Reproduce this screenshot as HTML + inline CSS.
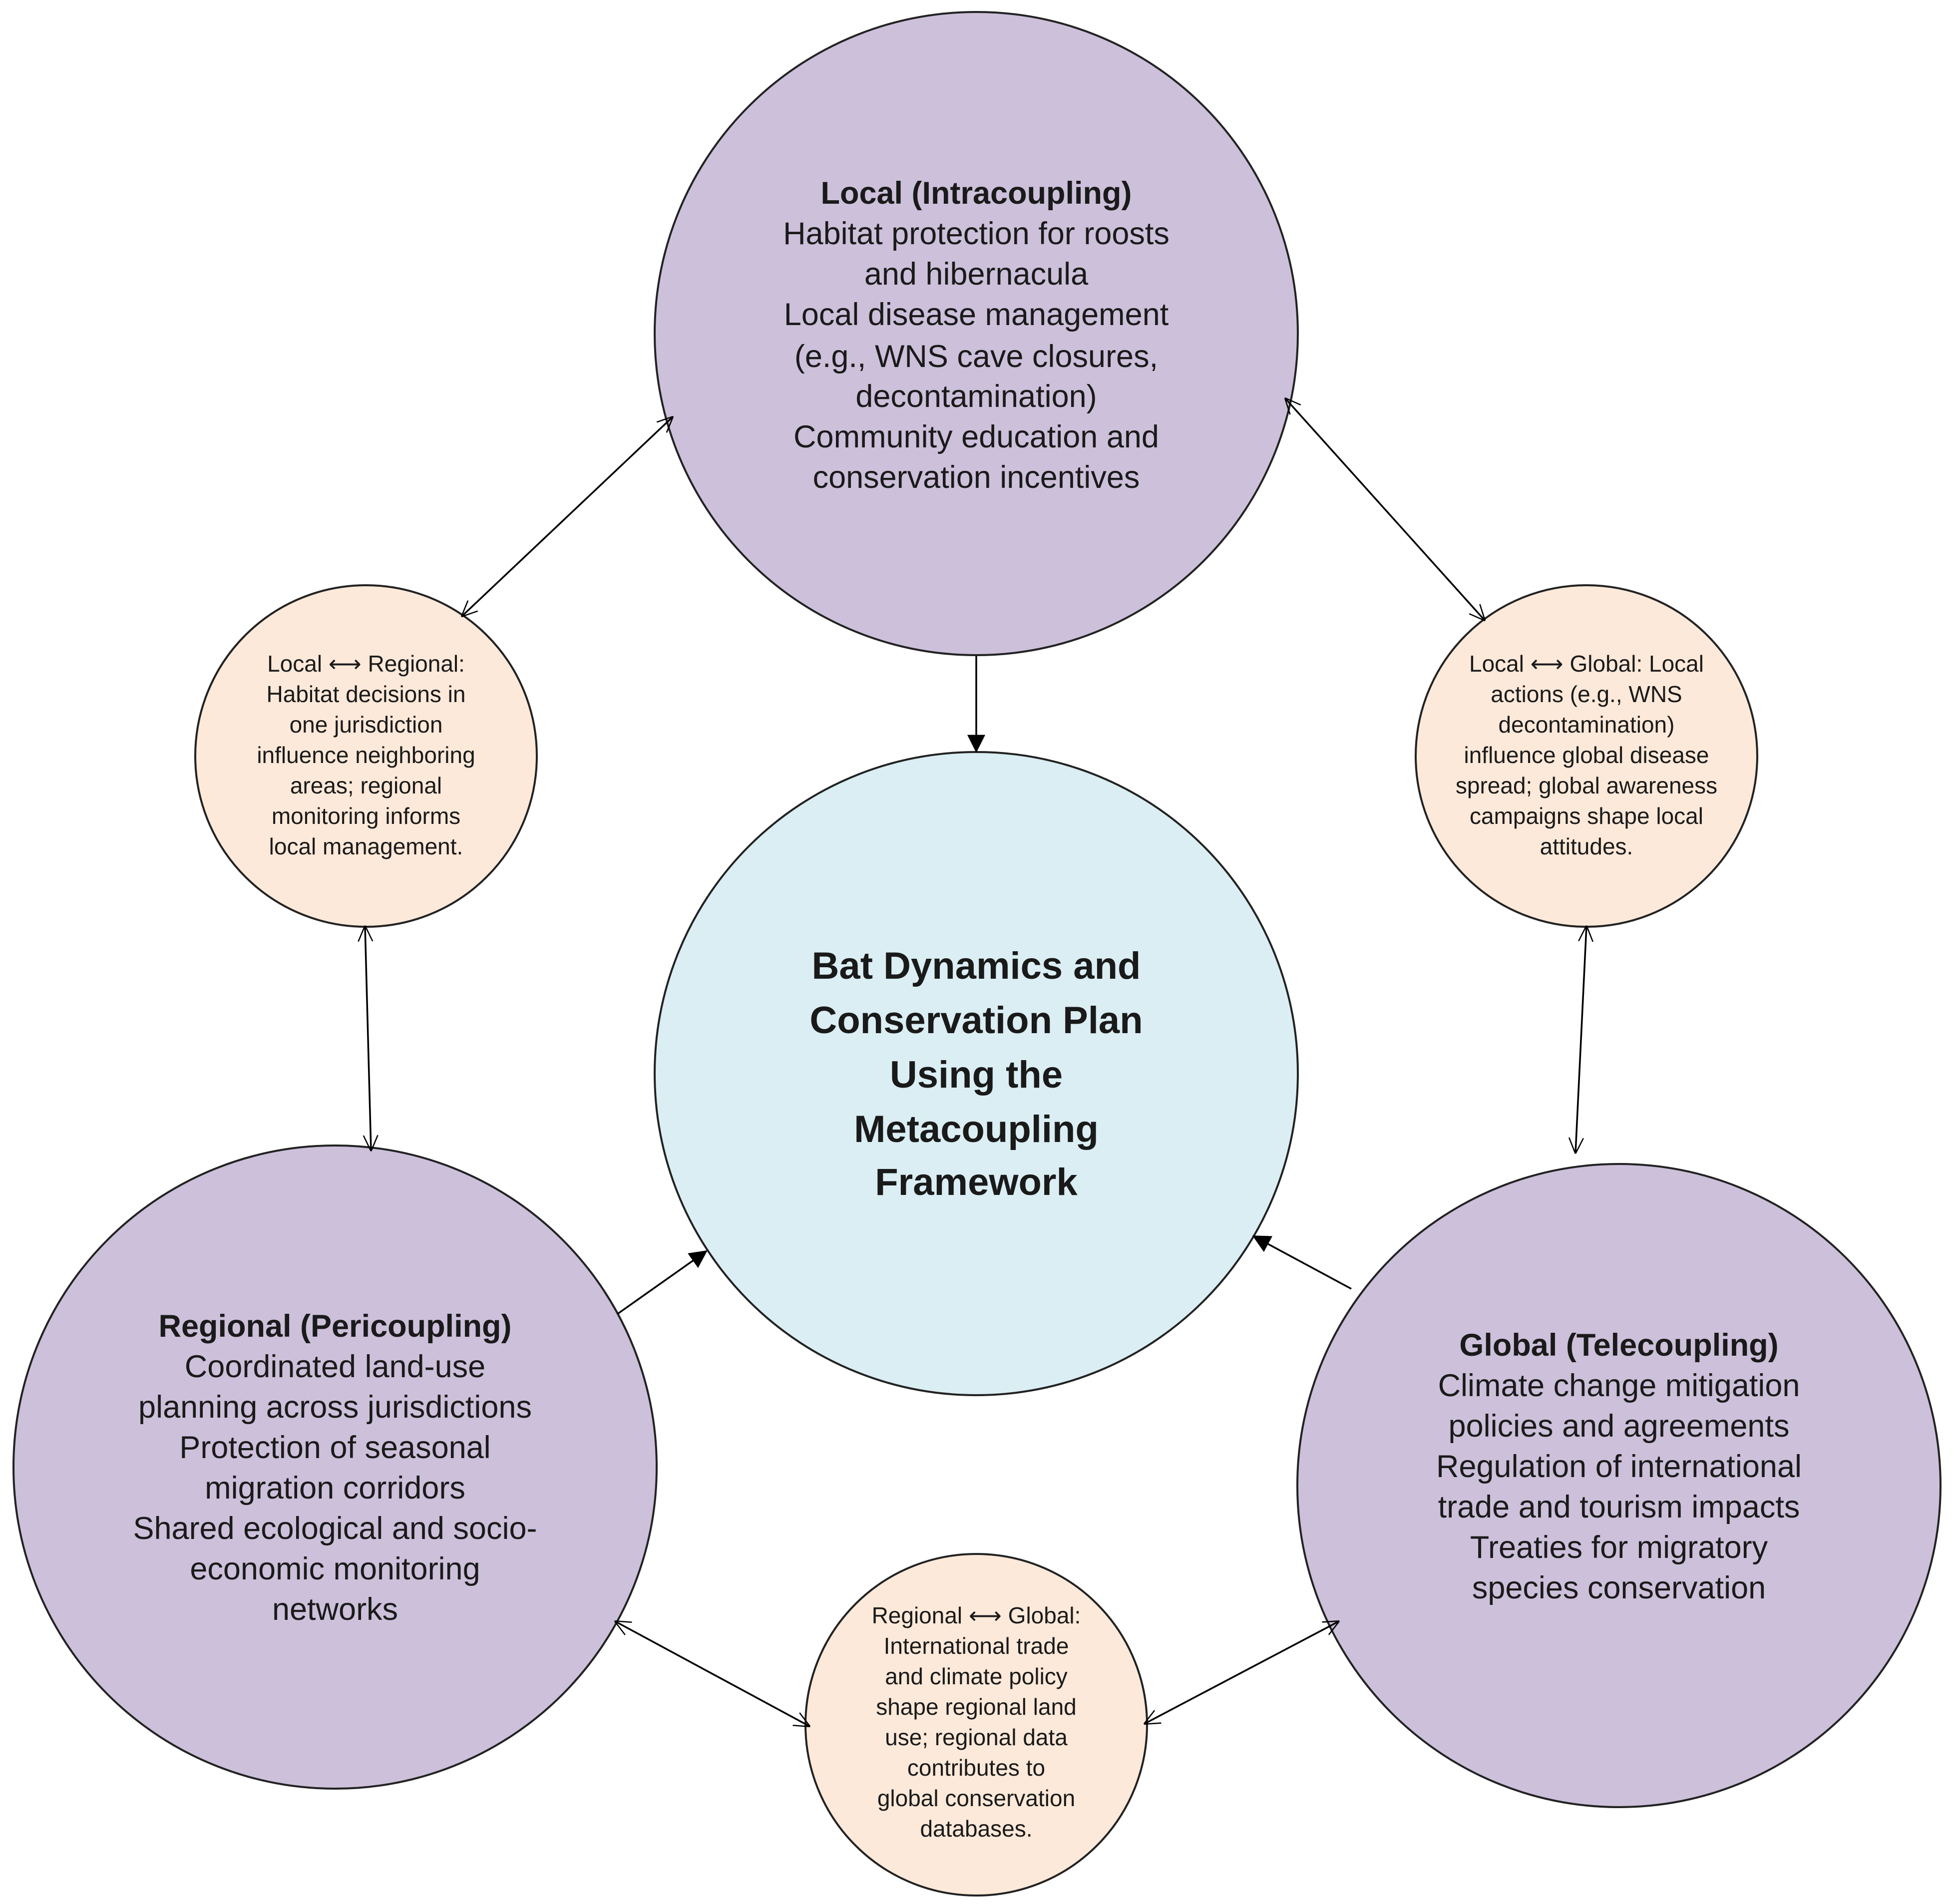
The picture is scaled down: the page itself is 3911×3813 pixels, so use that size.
<!DOCTYPE html>
<html><head><meta charset="utf-8"><style>
html,body{margin:0;padding:0;background:#fff;}
svg{display:block;}
text{font-family:"Liberation Sans",sans-serif;fill:#1a1a1a;text-anchor:middle;}
.b{font-size:63px;}
.s{font-size:46px;}
.t{font-size:76px;font-weight:bold;}
.ar{font-family:"DejaVu Sans",sans-serif;}
</style></head><body>
<svg width="3911" height="3813" viewBox="0 0 3911 3813" xmlns="http://www.w3.org/2000/svg">
<defs>
<marker id="fa" viewBox="0 0 10 10" refX="9" refY="5" markerWidth="36" markerHeight="36" markerUnits="userSpaceOnUse" orient="auto"><path d="M0,0 L10,5 L0,10 z" fill="#000"/></marker>
<marker id="oe" viewBox="0 0 10 10" refX="9.5" refY="5" markerWidth="32" markerHeight="32" markerUnits="userSpaceOnUse" orient="auto"><path d="M0,0.5 L10,5 L0,9.5" fill="none" stroke="#000" stroke-width="0.8"/></marker>
<marker id="os" viewBox="0 0 10 10" refX="0.5" refY="5" markerWidth="32" markerHeight="32" markerUnits="userSpaceOnUse" orient="auto"><path d="M10,0.5 L0,5 L10,9.5" fill="none" stroke="#000" stroke-width="0.8"/></marker>
</defs>
<g stroke="#222" stroke-width="4">
<circle cx="1955" cy="668" r="644" fill="#CCC0DA"/>
<circle cx="1955" cy="2150" r="644" fill="#DAEEF3"/>
<circle cx="671" cy="2938" r="644" fill="#CCC0DA"/>
<circle cx="3242" cy="2975" r="644" fill="#CCC0DA"/>
<circle cx="733" cy="1514" r="342" fill="#FDE9D9"/>
<circle cx="3177" cy="1514" r="342" fill="#FDE9D9"/>
<circle cx="1955" cy="3454" r="342" fill="#FDE9D9"/>
</g>
<g stroke="#000" stroke-width="3.5" fill="none">
<line x1="1955" y1="1314" x2="1955" y2="1504" marker-end="url(#fa)"/>
<line x1="1237" y1="2631" x2="1414" y2="2506" marker-end="url(#fa)"/>
<line x1="2706" y1="2581" x2="2511" y2="2476" marker-end="url(#fa)"/>
<line x1="1347" y1="835" x2="925" y2="1234" marker-start="url(#os)" marker-end="url(#oe)"/>
<line x1="2574" y1="798" x2="2973" y2="1242" marker-start="url(#os)" marker-end="url(#oe)"/>
<line x1="731" y1="1855" x2="743" y2="2304" marker-start="url(#os)" marker-end="url(#oe)"/>
<line x1="3177" y1="1855" x2="3155" y2="2309" marker-start="url(#os)" marker-end="url(#oe)"/>
<line x1="1232" y1="3247" x2="1621" y2="3457" marker-start="url(#os)" marker-end="url(#oe)"/>
<line x1="2681" y1="3247" x2="2292" y2="3452" marker-start="url(#os)" marker-end="url(#oe)"/>
</g>
<g class="b">
<text x="1955" y="408" font-weight="bold">Local (Intracoupling)</text>
<text x="1955" y="489">Habitat protection for roosts</text>
<text x="1955" y="570">and hibernacula</text>
<text x="1955" y="651">Local disease management</text>
<text x="1955" y="735">(e.g., WNS cave closures,</text>
<text x="1955" y="815">decontamination)</text>
<text x="1955" y="896">Community education and</text>
<text x="1955" y="977">conservation incentives</text>

<text x="671" y="2677" font-weight="bold">Regional (Pericoupling)</text>
<text x="671" y="2758">Coordinated land-use</text>
<text x="671" y="2839">planning across jurisdictions</text>
<text x="671" y="2920">Protection of seasonal</text>
<text x="671" y="3001">migration corridors</text>
<text x="671" y="3082">Shared ecological and socio-</text>
<text x="671" y="3163">economic monitoring</text>
<text x="671" y="3244">networks</text>

<text x="3242" y="2715" font-weight="bold">Global (Telecoupling)</text>
<text x="3242" y="2796">Climate change mitigation</text>
<text x="3242" y="2877">policies and agreements</text>
<text x="3242" y="2958">Regulation of international</text>
<text x="3242" y="3039">trade and tourism impacts</text>
<text x="3242" y="3120">Treaties for migratory</text>
<text x="3242" y="3201">species conservation</text>
</g>
<g class="t">
<text x="1955" y="1960">Bat Dynamics and</text>
<text x="1955" y="2069">Conservation Plan</text>
<text x="1955" y="2178">Using the</text>
<text x="1955" y="2287">Metacoupling</text>
<text x="1955" y="2393">Framework</text>
</g>
<g class="s">
<text x="733" y="1345">Local <tspan class="ar">⟷</tspan> Regional:</text>
<text x="733" y="1406">Habitat decisions in</text>
<text x="733" y="1467">one jurisdiction</text>
<text x="733" y="1528">influence neighboring</text>
<text x="733" y="1589">areas; regional</text>
<text x="733" y="1650">monitoring informs</text>
<text x="733" y="1711">local management.</text>

<text x="3177" y="1345">Local <tspan class="ar">⟷</tspan> Global: Local</text>
<text x="3177" y="1406">actions (e.g., WNS</text>
<text x="3177" y="1467">decontamination)</text>
<text x="3177" y="1528">influence global disease</text>
<text x="3177" y="1589">spread; global awareness</text>
<text x="3177" y="1650">campaigns shape local</text>
<text x="3177" y="1711">attitudes.</text>

<text x="1955" y="3251">Regional <tspan class="ar">⟷</tspan> Global:</text>
<text x="1955" y="3312">International trade</text>
<text x="1955" y="3373">and climate policy</text>
<text x="1955" y="3434">shape regional land</text>
<text x="1955" y="3495">use; regional data</text>
<text x="1955" y="3556">contributes to</text>
<text x="1955" y="3617">global conservation</text>
<text x="1955" y="3678">databases.</text>
</g>
</svg>
</body></html>
